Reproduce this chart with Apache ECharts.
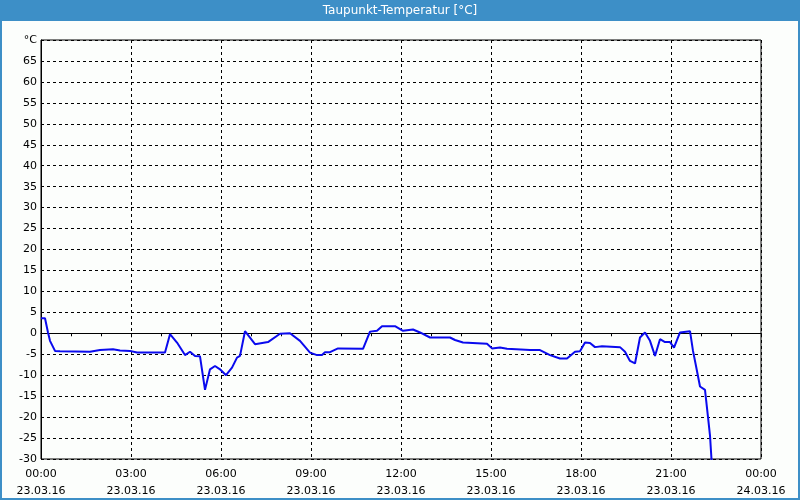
<!DOCTYPE html>
<html>
<head>
<meta charset="utf-8">
<script src="https://cdn.jsdelivr.net/npm/echarts@6/dist/echarts.min.js"></script>
<style>
  html, body { margin: 0; padding: 0; background: #fcfefc; }
  #chart { width: 800px; height: 500px; }
</style>
</head>
<body>
<div id="chart"></div>
<script>
// minutes since 23.03.16 00:00
const minutes = [0, 8, 14, 18, 28, 38, 98, 118, 144, 158, 178, 192, 248, 258, 272, 288, 298, 308, 318, 328,
  338, 348, 358, 370, 382, 392, 398, 408, 428, 454, 478, 498, 518, 538, 552, 562, 568, 578, 594, 644,
  658, 672, 682, 708, 724, 744, 758, 778, 818, 828, 844, 892, 902, 918, 932, 978, 998, 1018, 1038, 1052,
  1068, 1078, 1088, 1098, 1108, 1122, 1158, 1168, 1178, 1188, 1198, 1208, 1218, 1228, 1238, 1248, 1258, 1266, 1278, 1298,
  1304, 1310, 1318, 1328, 1334, 1338, 1342];
// dew point, °C
const dewPoint = [3.6, 3.6, 0.2, -1.8, -4.2, -4.3, -4.4, -4.0, -3.8, -4.1, -4.2, -4.6, -4.6, -0.2, -2.2, -5.2, -4.4, -5.4, -5.5, -13.5,
  -8.6, -7.8, -8.6, -10.0, -8.2, -5.8, -5.4, 0.5, -2.6, -2.1, -0.1, 0.0, -1.8, -4.6, -5.2, -5.2, -4.5, -4.5, -3.6, -3.7,
  0.4, 0.6, 1.7, 1.7, 0.6, 0.9, 0.2, -1.0, -1.0, -1.6, -2.2, -2.5, -3.6, -3.4, -3.7, -4.0, -4.0, -5.2, -6.0, -6.0,
  -4.4, -4.3, -2.2, -2.3, -3.3, -3.1, -3.3, -4.4, -6.6, -7.2, -1.0, 0.2, -1.8, -5.4, -1.4, -2.1, -2.1, -3.4, 0.2, 0.5,
  -4.2, -7.8, -12.7, -13.5, -20.0, -24.4, -32.0];

const xTickLabels = ['00:00\n23.03.16', '03:00\n23.03.16', '06:00\n23.03.16', '09:00\n23.03.16', '12:00\n23.03.16',
  '15:00\n23.03.16', '18:00\n23.03.16', '21:00\n23.03.16', '00:00\n24.03.16'];

const chart = echarts.init(document.getElementById('chart'));
const font = 'DejaVu Sans';

const option = {
  backgroundColor: '#fcfefc',
  animation: false,
  graphic: [
    { type: 'rect', shape: { x: 0, y: 0, width: 800, height: 21 }, style: { fill: '#3d8fc7' }, z: 10 },
    { type: 'rect', shape: { x: 0, y: 0, width: 2, height: 500 }, style: { fill: '#3d8fc7' }, z: 10 },
    { type: 'rect', shape: { x: 798, y: 0, width: 2, height: 500 }, style: { fill: '#3d8fc7' }, z: 10 },
    { type: 'rect', shape: { x: 0, y: 498, width: 800, height: 2 }, style: { fill: '#3d8fc7' }, z: 10 },
    {
      type: 'text', x: 400, y: 11, z: 11,
      style: { text: 'Taupunkt-Temperatur [°C]', fill: '#ffffff', font: '12px ' + font, align: 'center', verticalAlign: 'middle' }
    }
  ],
  grid: { left: 41, right: 39, top: 40, bottom: 40, show: true, borderColor: '#000', borderWidth: 1 },
  xAxis: {
    type: 'value',
    min: 0,
    max: 1440,
    interval: 180,
    axisLine: { lineStyle: { color: '#000' } },
    axisTick: { show: true, length: 4, lineStyle: { color: '#000' } },
    minorTick: { show: true, splitNumber: 3, length: 3, lineStyle: { color: '#000' } },
    axisLabel: {
      color: '#000', fontFamily: font, fontSize: 11, lineHeight: 17, margin: 7,
      formatter: v => xTickLabels[Math.round(v / 180)]
    },
    splitLine: { show: true, lineStyle: { color: '#000', type: [3, 3] } }
  },
  yAxis: {
    type: 'value',
    min: -30,
    max: 70,
    interval: 5,
    axisLine: { show: true, lineStyle: { color: '#000' } },
    axisTick: { show: false },
    axisLabel: {
      color: '#000', fontFamily: font, fontSize: 11, margin: 4,
      formatter: v => (v === 70 ? '°C' : String(v))
    },
    splitLine: { show: true, lineStyle: { color: '#000', type: [3, 3] } }
  },
  series: [{
    type: 'line',
    data: minutes.map((m, i) => [m, dewPoint[i]]),
    showSymbol: false,
    clip: true,
    lineStyle: { color: '#0a0aee', width: 2 }
  }]
};

chart.setOption(option);
</script>
</body>
</html>
